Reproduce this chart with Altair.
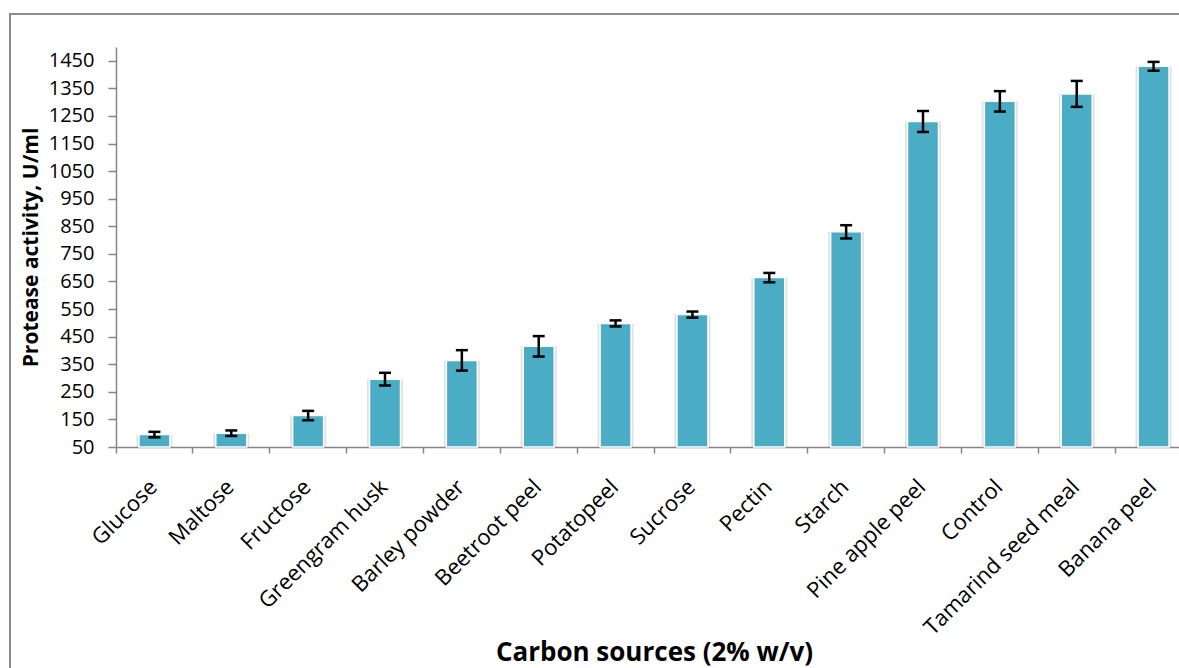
import altair as alt
import pandas as pd

# Protease activity for each carbon source (mean and standard deviation, U/ml)
sources = [
    "Glucose", "Maltose", "Fructose", "Greengram husk", "Barley powder",
    "Beetroot peel", "Potatopeel", "Sucrose", "Pectin", "Starch",
    "Pine apple peel", "Control", "Tamarind seed meal", "Banana peel",
]
activity = [95, 100, 164, 296, 364, 415, 498, 530, 664, 830, 1230, 1303, 1330, 1430]
sd = [10, 10, 17, 23, 37, 37, 11, 11, 17, 24, 38, 37, 47, 16]

y_ticks = [50, 150, 250, 350, 450, 550, 650, 750, 850, 950, 1050, 1150, 1250, 1350, 1450]

df = pd.DataFrame({"source": sources, "activity": activity, "sd": sd})

FONT = "Open Sans"
AXIS_GRAY = "#868686"
BAR_BLUE = "#4BACC6"

PLOT_W = 1063
PLOT_H = 400
BAND_SPAN = 1076  # category range runs slightly past the right edge

x_scale = alt.Scale(range=[0, BAND_SPAN], paddingInner=0, paddingOuter=0)
y_scale = alt.Scale(domain=[50, 1500], nice=False, zero=False)

x_axis = alt.Axis(
    title="Carbon sources (2% w/v)",
    bandPosition=0,
    labelAngle=-45,
    labelAlign="right",
    labelBaseline="top",
    labelPadding=23,
    labelOffset=-8,
    labelLimit=0,
    labelOverlap=False,
    labelFont=FONT,
    labelFontSize=22,
    labelColor="#000000",
    tickSize=6,
    tickWidth=1.5,
    tickColor=AXIS_GRAY,
    domainColor=AXIS_GRAY,
    domainWidth=1.5,
    grid=False,
    titleFont=FONT,
    titleFontSize=26,
    titleFontWeight="bold",
    titleColor="#000000",
    titleX=BAND_SPAN / 2,
    titleY=205,
    titleAlign="center",
    titleBaseline="middle",
)

y_axis = alt.Axis(
    title="Protease activity, U/ml",
    values=y_ticks,
    format="d",
    labelFont=FONT,
    labelFontSize=20,
    labelColor="#000000",
    labelPadding=14,
    tickSize=8,
    tickWidth=1.5,
    tickColor=AXIS_GRAY,
    domainColor=AXIS_GRAY,
    domainWidth=1.5,
    grid=False,
    titleFont=FONT,
    titleFontSize=21,
    titleFontWeight="bold",
    titleColor="#000000",
    titleAngle=-90,
    titleX=-85,
    titleY=PLOT_H / 2,
    titleAlign="center",
    titleBaseline="middle",
)

x_enc = alt.X("source:N", sort=sources, scale=x_scale, axis=x_axis)

base = alt.Chart(df).transform_calculate(
    lo="datum.activity - datum.sd",
    hi="datum.activity + datum.sd",
)

shadow = base.mark_bar(size=36, color="#bdbdbd", opacity=0.45).encode(
    x=x_enc,
    y=alt.Y("activity:Q", scale=y_scale, axis=y_axis),
    y2=alt.datum(50),
)

bars = base.mark_bar(size=31, color=BAR_BLUE, stroke="white", strokeWidth=1.5).encode(
    x=x_enc,
    y=alt.Y("activity:Q", scale=y_scale, axis=y_axis),
    y2=alt.datum(50),
)

err_line = base.mark_rule(color="black", strokeWidth=2.5).encode(
    x=x_enc,
    y=alt.Y("lo:Q", scale=y_scale, axis=y_axis),
    y2="hi:Q",
)

cap_lo = base.mark_tick(color="black", thickness=2.5, size=12, opacity=1).encode(
    x=x_enc,
    y=alt.Y("lo:Q", scale=y_scale, axis=y_axis),
)

cap_hi = base.mark_tick(color="black", thickness=2.5, size=12, opacity=1).encode(
    x=x_enc,
    y=alt.Y("hi:Q", scale=y_scale, axis=y_axis),
)

# Outer frame of the figure (left and top edges)
frame_df = pd.DataFrame({"k": [0]})
frame_left = alt.Chart(frame_df).mark_rule(color="#8c8c8c", strokeWidth=2).encode(
    x=alt.value(-106), y=alt.value(-33), y2=alt.value(640)
)
frame_top = alt.Chart(frame_df).mark_rule(color="#8c8c8c", strokeWidth=2).encode(
    x=alt.value(-107), x2=alt.value(PLOT_W + 20), y=alt.value(-33)
)

chart = (
    alt.layer(shadow, bars, err_line, cap_lo, cap_hi, frame_left, frame_top)
    .properties(
        width=PLOT_W,
        height=PLOT_H,
        padding={"left": 116, "top": 47, "right": 0, "bottom": 221},
        autosize=alt.AutoSizeParams(type="none"),
        background="white",
    )
    .configure_view(stroke=None)
)

chart.save("out.html", embed_options={"renderer": "svg", "actions": False})
